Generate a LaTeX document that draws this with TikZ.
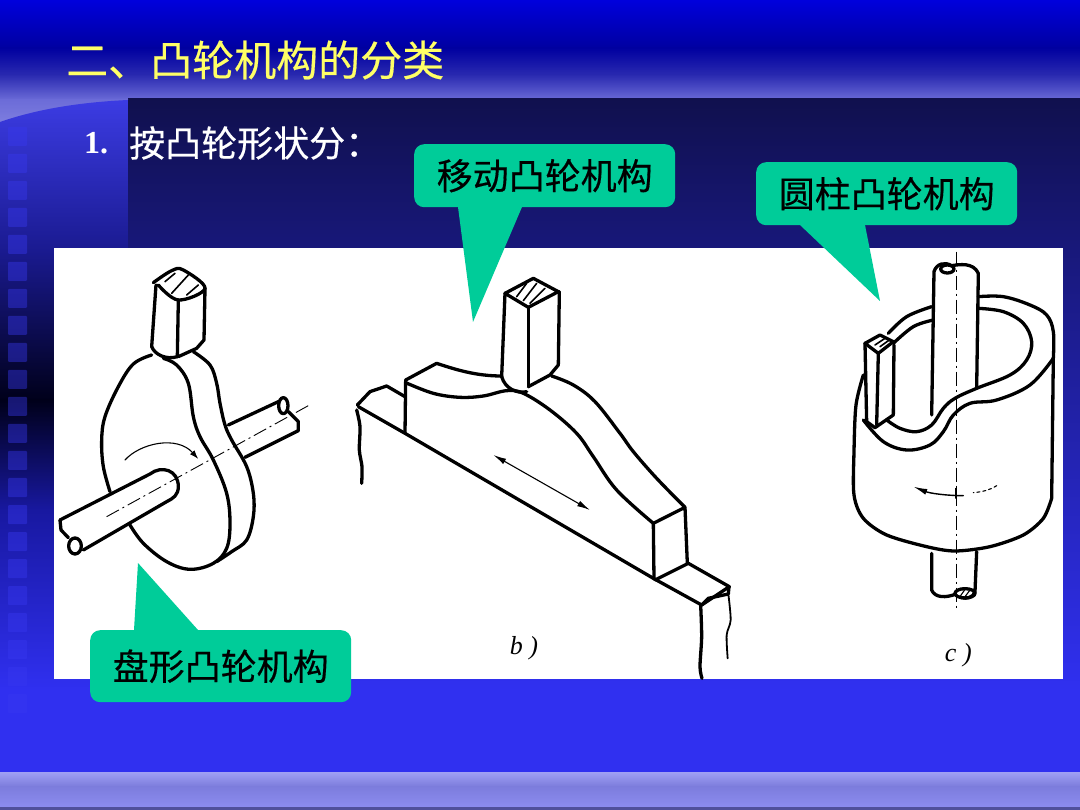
\documentclass[tikz,border=0pt]{standalone}
\usepackage{fontspec}
\setmainfont{Liberation Serif}
\newfontfamily\cjk[FakeBold=0.4]{Noto Sans CJK SC}
\usetikzlibrary{arrows.meta}
\definecolor{calloutteal}{HTML}{00CC99}
\definecolor{sq}{HTML}{3838F0}
\definecolor{c0}{HTML}{0000DC}\definecolor{c1}{HTML}{0000A0}\definecolor{c2}{HTML}{2A2AB0}\definecolor{c3}{HTML}{6C6CD8}
\definecolor{c4}{HTML}{8080E0}
\definecolor{p0}{HTML}{10104E}\definecolor{p1}{HTML}{18187A}\definecolor{p2}{HTML}{3030F0}
\definecolor{l0}{HTML}{3C3CE4}\definecolor{l1}{HTML}{1A1A90}\definecolor{l2}{HTML}{00001A}\definecolor{l3}{HTML}{1818A0}
\definecolor{b0}{HTML}{A0A0F4}\definecolor{b1}{HTML}{7C7CDC}\definecolor{b2}{HTML}{8C8CF0}\definecolor{b3}{HTML}{50509C}
\definecolor{titleyellow}{HTML}{FFFF66}
\tikzset{
  ink/.style={draw=black,line width=3.3pt,line join=round,line cap=round},
  thinink/.style={draw=black,line width=1.1pt,line cap=round},
  centre/.style={draw=black,line width=0.9pt,dash pattern=on 14pt off 4pt on 2pt off 4pt},
  callout/.style={fill=calloutteal,rounded corners=10pt,inner sep=0pt,text=black,font=\cjk\fontsize{36}{36}\selectfont,align=center,anchor=north west},
  tailshape/.style={fill=calloutteal},
  pix/.style={shift={#1},x=0.33333pt,y=-0.33333pt},
  sketchlabel/.style={font=\itshape\fontsize{26}{26}\selectfont,inner sep=0pt}
}
\begin{document}
\begin{tikzpicture}[x=1pt,y=-1pt]
\useasboundingbox (0,0) rectangle (1080,810);
% top band
\shade[top color=c0,bottom color=c1] (0,0) rectangle (1080,48.5);
\shade[top color=c1,bottom color=c2] (0,48) rectangle (1080,75.5);
\shade[top color=c2,bottom color=c3] (0,75) rectangle (1080,100.5);
\shade[top color=c3,bottom color=c4] (0,100) rectangle (1080,126);
% right panel
\shade[top color=p0,bottom color=p1] (128,99) rectangle (1080,248.5);
\shade[top color=p1,bottom color=p2] (128,248) rectangle (1080,690);
\fill[p2] (0,689) rectangle (1080,772);
% left column
\begin{scope}
\clip (0,122) .. controls (40,108) and (85,102) .. (128,100) -- (165,99) -- (128,99) -- (128,690) -- (0,690) -- cycle;
\shade[top color=l0,bottom color=l1] (0,98) rectangle (128,250.5);
\shade[top color=l1,bottom color=l2] (0,250) rectangle (128,400.5);
\shade[top color=l2,bottom color=l3] (0,400) rectangle (128,510.5);
\shade[top color=l3,bottom color=p2] (0,510) rectangle (128,690);
\end{scope}
% film squares
\foreach \k in {0,...,21}{
  \fill[sq,opacity=0.42,rounded corners=1pt] (8,127+\k*27) rectangle (27,146+\k*27);
}
% bottom band
\shade[top color=b0,bottom color=b1] (0,772) rectangle (1080,786.5);
\shade[top color=b1,bottom color=b2] (0,786) rectangle (1080,807);
\fill[b3] (0,807) rectangle (1080,810);
% title and heading
\node[anchor=west,inner sep=0pt,text=titleyellow,font=\cjk\fontsize{42}{42}\selectfont] (title) at (66,60) {二、凸轮机构的分类};
\node[anchor=west,inner sep=0pt,text=white,font=\bfseries\fontsize{32}{32}\selectfont] (num) at (84,143) {1.};
\node[anchor=west,inner sep=0pt,text=white,font=\cjk\fontsize{36}{36}\selectfont] (head) at (129,143) {按凸轮形状分：};
% picture panel
\fill[white] (54,248) rectangle (1063,679);

% ---------- a) disc cam
\begin{scope}[pix={(50,240)}]
\draw[ink] plot[smooth,tension=0.6] coordinates {(310,128)(365,92)(400,90)(465,145)(385,180)(325,135)};
\draw[ink] (318,135) -- (305,320);
\draw[ink] (385,180) -- (382,350);
\draw[ink] (465,145) -- (462,300) -- (440,325) -- (385,350);
\draw[ink] (305,320) .. controls (315,345) and (350,360) .. (382,350);
\draw[thinink,line width=1.6pt] (365,160)--(415,105) (345,125)--(375,100) (410,165)--(445,135);
\draw[ink] plot[smooth,tension=0.6] coordinates {(305,345)(250,372)(205,440)(165,530)(155,600)(160,680)(180,755)};
\draw[ink] plot[smooth,tension=0.6] coordinates {(240,855)(280,910)(350,965)(420,988)(490,970)(530,925)(540,850)(530,760)(490,660)(450,590)(430,530)(415,430)(380,375)(340,355)};
\draw[ink] plot[smooth,tension=0.6] coordinates {(430,335)(480,375)(500,430)(510,490)(525,555)(545,600)(590,680)(610,760)(610,830)(590,900)(545,935)(500,965)};
\draw[ink] (30,840) -- (300,702) .. controls (335,675) and (385,690) .. (385,740) .. controls (385,765) and (370,775) .. (350,785) -- (100,930);
\draw[ink] (30,840) -- (33,870) -- (55,893);
\draw[ink] (75,918) ellipse [x radius=19,y radius=24];
\draw[ink] (535,555) -- (685,485);
\draw[ink] (700,497) ellipse [x radius=14,y radius=24];
\draw[ink] (715,515) -- (745,545) -- (745,572) -- (585,652);
\draw[centre] (170,830) -- (775,497);
\draw[thinink,-{Latex[length=9pt,width=6pt]}] (225,660) .. controls (270,610) and (380,585) .. (445,657);
\end{scope}

% ---------- b) translating cam
\begin{scope}[pix={(350,270)}]
\draw[ink] (465,70) -- (550,25) -- (625,65) -- (535,112) -- cycle;
\draw[ink] (465,70) -- (455,320);
\draw[ink] (535,112) -- (535,350);
\draw[ink] (628,65) -- (625,285) -- (600,315) -- (535,350);
\draw[ink] (455,320) .. controls (465,355) and (500,372) .. (530,365);
\draw[thinink,line width=1.6pt] (500,80)--(530,40) (520,92)--(560,40) (540,100)--(585,55);
\draw[ink] (25,410) -- (165,490) -- (910,925) -- (1055,1005);
\draw[ink] (22,405) -- (60,365) -- (110,348) -- (165,380);
\draw[ink] plot[smooth,tension=0.5] coordinates {(20,420)(30,470)(28,540)(36,590)(35,640)};
\draw[ink] (165,490) -- (167,330) -- (260,280) .. controls (320,300) and (380,318) .. (455,318);
\draw[ink] plot[smooth,tension=0.6] coordinates {(167,338)(250,370)(330,382)(400,378)(470,362)(520,370)(600,420)(680,490)(730,560)(800,660)(910,760)};
\draw[ink] (910,760) -- (912,925);
\draw[ink] (910,760) -- (1005,712) -- (1012,880);
\draw[ink] plot[smooth,tension=0.6] coordinates {(605,318)(670,345)(735,395)(810,490)(850,545)(920,625)(1005,712)};
\draw[ink] (915,930) -- (1015,880) -- (1138,950) -- (1055,1005);
\draw[ink] (1137,950) -- (1135,972) -- (1075,985) -- (1055,1005);
\draw[ink] plot[smooth,tension=0.5] coordinates {(1052,1005)(1055,1100)(1050,1190)(1056,1225)};
\draw[thinink,line width=1.8pt] plot[smooth,tension=0.5] coordinates {(1135,972)(1142,1050)(1130,1095)(1133,1165)};
\draw[thinink,{Latex[length=13pt,width=6pt]}-{Latex[length=13pt,width=6pt]}] (430,555) -- (720,720);
\node[sketchlabel] (blabel) at (522,1136) {b )};
\end{scope}

% ---------- c) cylindrical cam
\begin{scope}[pix={(830,245)}]
\draw[centre] (378,20) -- (378,1100);
\draw[ink] (305,510) -- (312,80) .. controls (320,55) and (345,50) .. (365,62) .. controls (390,58) and (430,52) .. (445,85) -- (440,430);
\draw[ink] (352,72) ellipse [x radius=20,y radius=12];
\draw[ink] plot[smooth,tension=0.6] coordinates {(305,185)(230,215)(175,265)};
\draw[ink] plot[smooth,tension=0.6] coordinates {(310,225)(250,245)(190,295)};
\draw[ink] plot[smooth,tension=0.6] coordinates {(445,155)(520,155)(600,180)(650,210)(670,260)(670,340)};
\draw[ink] plot[smooth,tension=0.6] coordinates {(445,190)(520,200)(580,235)(605,290)(590,345)(540,390)(440,430)(375,460)(340,490)(305,540)(260,560)(210,550)(170,525)};
\draw[ink] plot[smooth,tension=0.6] coordinates {(670,340)(600,420)(500,465)(420,475)(370,510)(340,560)(300,600)(230,615)(160,590)(100,525)};
\draw[ink] plot[smooth,tension=0.5] coordinates {(100,390)(78,480)(72,620)(72,750)(100,820)(170,870)(290,905)(375,918)(480,905)(580,870)(640,820)(665,760)};
\draw[ink] (665,760) -- (670,340);
\draw[ink] (105,295) -- (150,270) -- (190,290) -- (145,325) -- cycle;
\draw[ink] (105,295) -- (110,530) -- (135,548) -- (190,510) -- (192,300);
\draw[ink] (145,325) -- (140,540);
\draw[thinink,line width=1.6pt] (135,300)--(165,280) (150,305)--(178,285);
\draw[ink] (305,925) -- (305,1035) .. controls (315,1060) and (350,1058) .. (375,1048);
\draw[ink] (440,920) -- (435,1040) .. controls (430,1058) and (410,1062) .. (395,1058);
\draw[ink] (405,1045) ellipse [x radius=30,y radius=14];
\draw[thinink] (390,1055)--(405,1033) (405,1055)--(420,1035);
\draw[thinink,line width=1.4pt,-{Latex[length=14pt,width=6pt]}] (400,752) .. controls (350,752) and (300,745) .. (250,725);
\draw[thinink,dashed] (500,722) .. controls (480,735) and (460,740) .. (430,743);
\draw[thinink] (378,730) -- (378,760);
\node[sketchlabel] (clabel) at (385,1230) {c )};
\end{scope}

% ---------- callouts
\coordinate (t1a) at (458,207); \coordinate (t1b) at (522,207); \coordinate (t1tip) at (473,322);
\coordinate (t2a) at (800,225); \coordinate (t2b) at (865,225); \coordinate (t2tip) at (880,301);
\coordinate (t3a) at (134,630); \coordinate (t3b) at (198,630); \coordinate (t3tip) at (138,563);
\fill[tailshape] (t1a) -- (t1tip) -- (t1b) -- cycle;
\fill[tailshape] (t2a) -- (t2tip) -- (t2b) -- cycle;
\fill[tailshape] (t3a) -- (t3tip) -- (t3b) -- cycle;
\node[callout,minimum width=261pt,minimum height=63pt] (c1) at (414,144) {移动凸轮机构};
\node[callout,minimum width=261pt,minimum height=63pt] (c2) at (756,162) {圆柱凸轮机构};
\node[callout,minimum width=261pt,minimum height=72pt] (c3) at (90,630) {盘形凸轮机构};
\end{tikzpicture}
\end{document}
